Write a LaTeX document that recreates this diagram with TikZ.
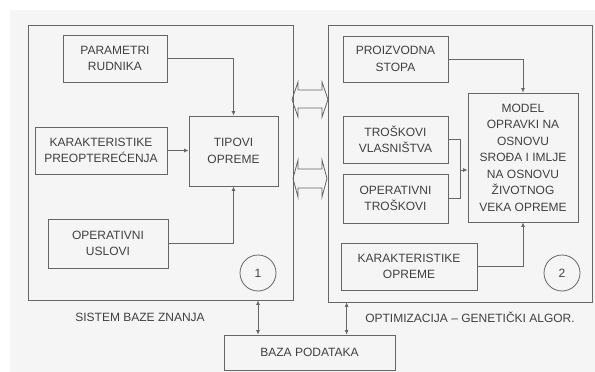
\documentclass[tikz,border=0pt]{standalone}
\usepackage{fontspec}
\setmainfont{Liberation Sans}
\usetikzlibrary{arrows.meta}

\begin{document}
\begin{tikzpicture}[x=1pt, y=-1pt, line width=0.8pt,
	every node/.style={font=\fontsize{12}{16.5}\selectfont, text=black!75},
	box/.style={draw=black!60, align=center, inner sep=2pt},
	panel/.style={draw=black!60, inner sep=0pt},
	krug/.style={draw=black!60, circle, minimum size=36pt, inner sep=0pt},
	conn/.style={draw=black!60, -{Latex[length=4.5pt, width=4pt]}},
	dvo/.style={draw=black!60, {Latex[length=4.5pt, width=4pt]}-{Latex[length=4.5pt, width=4pt]}}]
	\useasboundingbox (0,0) rectangle (595,372);
	\fill[black!4] (10,10) rectangle (595,372);
	% two panels
	\node[panel, minimum width=265, minimum height=275] (lp) at (160.5,162.5) {};
	\node[panel, minimum width=264, minimum height=277] (rp) at (460,163.5) {};
	% left: knowledge base
	\node[box, minimum width=104, minimum height=47] (par) at (115,58.5) {PARAMETRI\\RUDNIKA};
	\node[box, minimum width=132, minimum height=47] (pre) at (101,150.5) {KARAKTERISTIKE\\PREOPTEREĆENJA};
	\node[box, minimum width=89, minimum height=70] (tip) at (233.5,151) {TIPOVI\\OPREME};
	\node[box, minimum width=120, minimum height=49] (usl) at (108,243.5) {OPERATIVNI\\USLOVI};
	\node[krug] (c1) at (258,273) {1};
	\draw[conn] (par.east) -| (tip.north);
	\draw[conn] (pre.east) -- (pre.east -| tip.west);
	\draw[conn] (usl.east) -| (tip.south);
	% right: optimisation
	\node[box, minimum width=105, minimum height=46] (sto) at (395.5,59) {PROIZVODNA\\STOPA};
	\node[box, minimum width=105, minimum height=47] (tro) at (395.5,139.5) {TROŠKOVI\\VLASNIŠTVA};
	\node[box, minimum width=105, minimum height=49] (ope) at (395.5,198.5) {OPERATIVNI\\TROŠKOVI};
	\node[box, minimum width=110, minimum height=129] (mod) at (523,157.5) {MODEL\\OPRAVKI NA\\OSNOVU\\SROĐA I IMLJE\\NA OSNOVU\\ŽIVOTNOG\\VEKA OPREME};
	\node[box, minimum width=136, minimum height=47] (kop) at (409,266.5) {KARAKTERISTIKE\\OPREME};
	\node[krug] (c2) at (562,273) {2};
	\coordinate (spoj) at (460,170);
	\draw[conn] (sto.east) -| (mod.north);
	\draw[draw=black!60] (tro.east) -| (spoj);
	\draw[draw=black!60] (ope.east) -| (spoj);
	\draw[conn] (spoj) -- (spoj -| mod.west);
	\draw[conn] (kop.east) -| (mod.south);
	% hollow arrows between the panels
	\draw[black!60] (292,99.5) -- (298,82) -- (298,90) -- (322,90) -- (322,82) -- (328,99.5)
		-- (322,117) -- (322,108) -- (298,108) -- (298,117) -- cycle;
	\draw[black!60] (293,178.5) -- (298,160) -- (298,169) -- (322,169) -- (322,160) -- (327,178.5)
		-- (322,197) -- (322,188) -- (298,188) -- (298,197) -- cycle;
	% labels and database
	\node (l1) at (140,317) {SISTEM BAZE ZNANJA};
	\node (l2) at (470,317) {OPTIMIZACIJA -- GENETIČKI ALGOR.};
	\node[box, minimum width=171, minimum height=35] (baza) at (309.5,352.5) {BAZA PODATAKA};
	\draw[dvo] (c1 |- lp.south) -- (c1 |- baza.north);
	\draw[dvo] ([xshift=19pt]rp.south west) -- ([xshift=19pt]rp.south west |- baza.north);
\end{tikzpicture}
\end{document}
